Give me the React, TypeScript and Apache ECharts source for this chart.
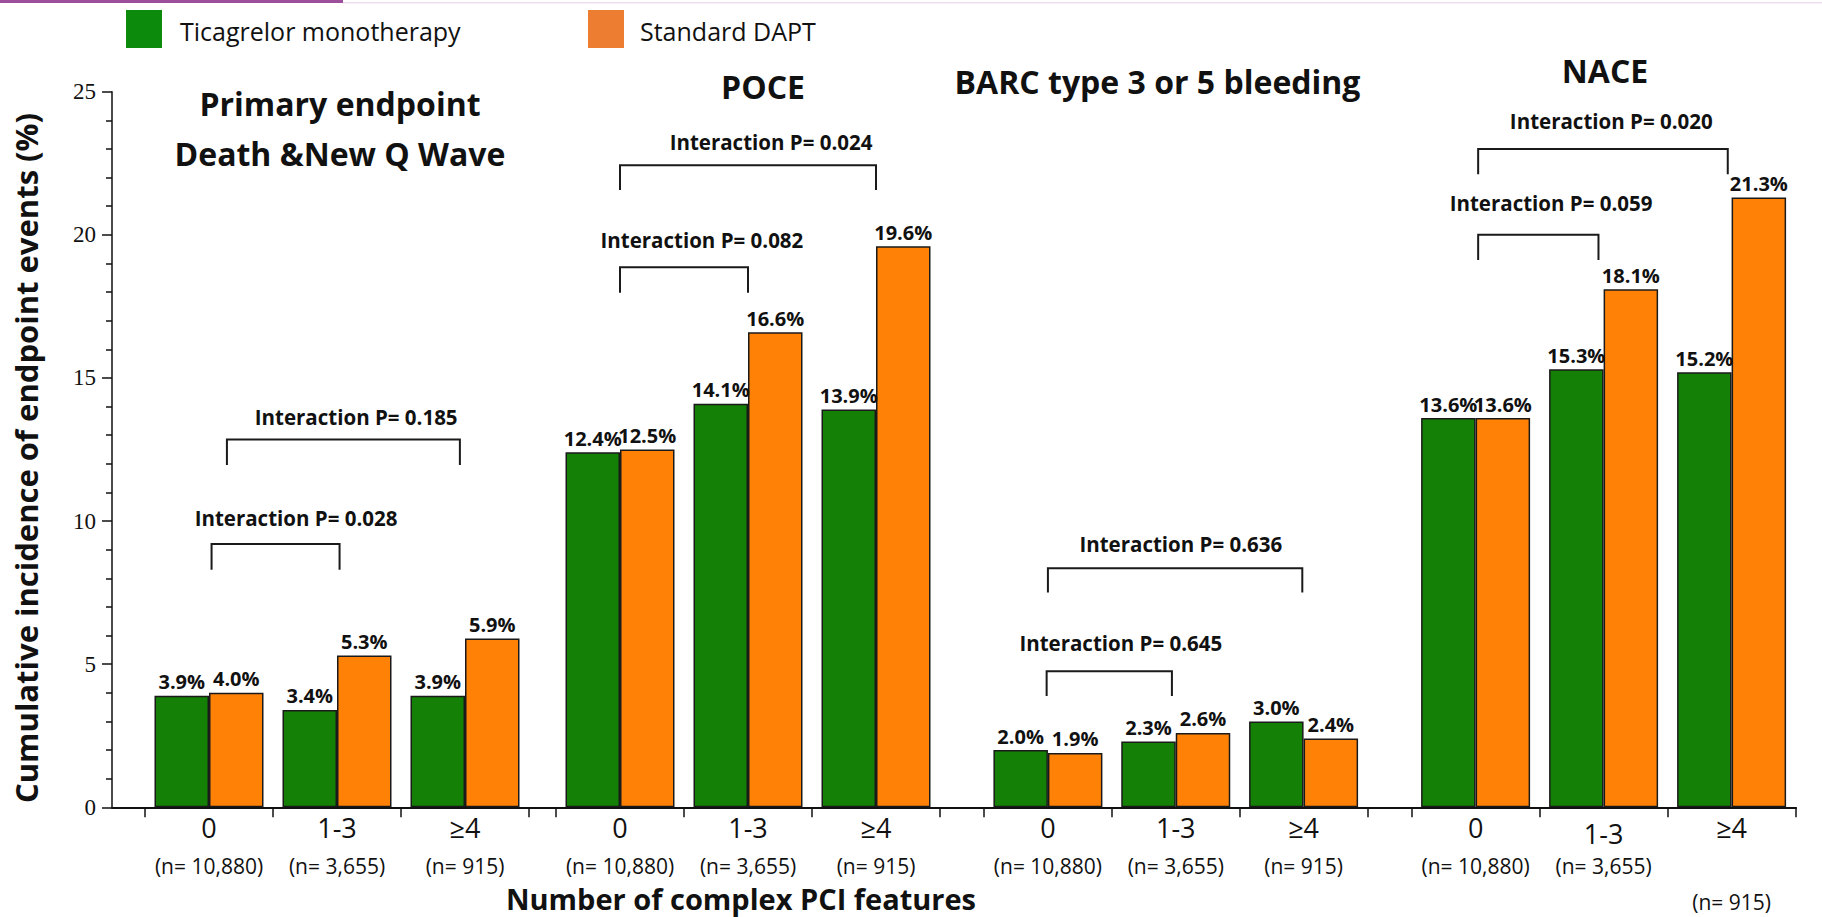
import React, { useEffect, useRef } from "react";
import * as echarts from "echarts";

// Complexity groups and their sizes
const CATEGORIES = ["0", "1-3", "≥4"];
const GROUP_SIZES = ["10,880", "3,655", "915"];

// Endpoint panels
const PANEL_TITLES = [
  ["Primary endpoint", "Death &New Q Wave"],
  ["POCE"],
  ["BARC type 3 or 5 bleeding"],
  ["NACE"],
];

// Cumulative incidence (%) by panel, per complexity group
const TICAGRELOR = [
  [3.9, 3.4, 3.9],
  [12.4, 14.1, 13.9],
  [2.0, 2.3, 3.0],
  [13.6, 15.3, 15.2],
];
const DAPT = [
  [4.0, 5.3, 5.9],
  [12.5, 16.6, 19.6],
  [1.9, 2.6, 2.4],
  [13.6, 18.1, 21.3],
];

// Interaction p-values: 0 vs 1-3 and 0 vs ≥4
const P_ZERO_VS_FEW = ["0.028", "0.082", "0.645", "0.059"];
const P_ZERO_VS_MANY = ["0.185", "0.024", "0.636", "0.020"];

const Y_MIN = 0;
const Y_MAX = 25;
const Y_STEP = 5;

const SERIES_NAMES = ["Ticagrelor monotherapy", "Standard DAPT"];

// ---- layout ----
const W = 1822;
const H = 917;
const TOP = 91.7;
const BOTTOM = 109.7;
const PANEL_LEFT = [145, 556, 984, 1411.6];
const PANEL_WIDTH = [384, 384, 383.5, 384];
const SANS = "'Open Sans', 'Noto Sans', sans-serif";
const GREEN = "#148005";
const ORANGE = "#ff8206";
const INK = "#111111";

// bracket geometry: x in category units from first group centre, y in axis units
const BRACKET_FEW = [
  { from: 0.02, to: 1.02, top: 9.2, foot: 8.3, lx: 0.68, ly: 10.1 },
  { from: 0.0, to: 1.0, top: 18.87, foot: 17.98, lx: 0.64, ly: 19.82 },
  { from: -0.01, to: 0.97, top: 4.75, foot: 3.89, lx: 0.57, ly: 5.73 },
  { from: 0.02, to: 0.96, top: 20.0, foot: 19.12, lx: 0.59, ly: 21.1 },
];
const BRACKET_MANY = [
  { from: 0.14, to: 1.96, top: 12.85, foot: 11.96, lx: 1.15, ly: 13.65 },
  { from: 0.0, to: 2.0, top: 22.43, foot: 21.57, lx: 1.18, ly: 23.26 },
  { from: 0.0, to: 1.99, top: 8.35, foot: 7.5, lx: 1.04, ly: 9.2 },
  { from: 0.02, to: 1.97, top: 23.0, foot: 22.12, lx: 1.06, ly: 23.96 },
];

const TITLE_POS = [
  { x: 340, y: [103, 153] },
  { x: 763, y: [86] },
  { x: 1157.5, y: [81] },
  { x: 1605, y: [70] },
];

// vertical centre of the group-size line under each category
const SIZE_ROW_Y = 865.5;
const SIZE_ROW_Y_LAST = [865.5, 865.5, 901.5];

function buildOption() {
  const grids: any[] = [
    { left: 112, right: W - 1796, top: TOP, bottom: BOTTOM, containLabel: false, outerBoundsMode: "none" },
  ];
  const xAxes: any[] = [
    {
      type: "value",
      gridIndex: 0,
      min: 0,
      max: 1,
      axisLine: { show: true, onZero: false, lineStyle: { color: INK, width: 2 } },
      axisTick: { show: false },
      axisLabel: { show: false },
      splitLine: { show: false },
    },
  ];
  const yAxes: any[] = [
    {
      type: "value",
      gridIndex: 0,
      min: Y_MIN,
      max: Y_MAX,
      interval: Y_STEP,
      axisLine: { show: true, lineStyle: { color: INK, width: 1.5 } },
      axisTick: { show: true, length: 10, lineStyle: { color: INK, width: 1.5 } },
      minorTick: { show: true, splitNumber: 5, length: 6, lineStyle: { color: INK, width: 1.5 } },
      axisLabel: {
        margin: 16,
        fontFamily: "'Liberation Serif', 'DejaVu Serif', serif",
        fontSize: 23,
        color: INK,
      },
      splitLine: { show: false },
    },
  ];
  const series: any[] = [];
  const barLabel = {
    show: true,
    position: "top",
    distance: 4,
    fontFamily: SANS,
    fontWeight: "bold",
    fontSize: 20,
    color: INK,
    formatter: (p: any) => `${Number(p.value).toFixed(1)}%`,
  };

  for (let p = 0; p < 4; p++) {
    const gi = p + 1;
    grids.push({
      left: PANEL_LEFT[p],
      width: PANEL_WIDTH[p],
      top: TOP,
      bottom: BOTTOM,
      containLabel: false,
      outerBoundsMode: "none",
    });
    xAxes.push({
      type: "category",
      gridIndex: gi,
      data: CATEGORIES,
      boundaryGap: true,
      axisLine: { show: false },
      axisTick: { show: true, length: 10, lineStyle: { color: INK, width: 1.5 } },
      axisLabel: {
        interval: 0,
        margin: 5,
        color: INK,
        fontFamily: SANS,
        formatter: (value: string, index: number) =>
          p === 3 && index === 1 ? `{c2|${value}}` : `{c|${value}}`,
        rich: {
          c: { fontFamily: SANS, fontSize: 27, lineHeight: 30, color: INK },
          c2: { fontFamily: SANS, fontSize: 27, lineHeight: 42, color: INK },
        },
      },
      splitLine: { show: false },
    });
    yAxes.push({ type: "value", gridIndex: gi, min: Y_MIN, max: Y_MAX, show: false });

    series.push({
      name: SERIES_NAMES[0],
      type: "bar",
      xAxisIndex: gi,
      yAxisIndex: gi,
      data: TICAGRELOR[p],
      barWidth: 54.5,
      barGap: "0%",
      itemStyle: { color: GREEN, borderColor: "#1a1a1a", borderWidth: 1.5 },
      label: barLabel,
    });
    series.push({
      name: SERIES_NAMES[1],
      type: "bar",
      xAxisIndex: gi,
      yAxisIndex: gi,
      data: DAPT[p],
      barWidth: 54.5,
      barGap: "0%",
      itemStyle: { color: ORANGE, borderColor: "#1a1a1a", borderWidth: 1.5 },
      label: barLabel,
    });
  }

  return {
    animation: false,
    backgroundColor: "#ffffff",
    grid: grids,
    xAxis: xAxes,
    yAxis: yAxes,
    series,
  };
}

function textEl(text: string, x: number, y: number, size: number, weight: string, align = "center", extra: any = {}) {
  return {
    type: "text",
    x,
    y,
    ...extra,
    style: {
      text,
      fontFamily: SANS,
      fontSize: size,
      fontWeight: weight,
      fill: INK,
      textAlign: align,
      textVerticalAlign: "middle",
    },
  };
}

function buildGraphic(chart: any) {
  const els: any[] = [];

  // header rule
  els.push({ type: "rect", shape: { x: 0, y: 0, width: 343, height: 3 }, style: { fill: "#9d4f9b" } });
  els.push({ type: "rect", shape: { x: 343, y: 2, width: W - 343, height: 1.5 }, style: { fill: "#ecdcef" } });

  // legend
  els.push({ type: "rect", shape: { x: 126, y: 10, width: 36, height: 38 }, style: { fill: "#0b8a0b" } });
  els.push(textEl(SERIES_NAMES[0], 180, 31, 25, "normal", "left"));
  els.push({ type: "rect", shape: { x: 588, y: 10, width: 36, height: 38 }, style: { fill: "#ed7d31" } });
  els.push(textEl(SERIES_NAMES[1], 640, 31, 25, "normal", "left"));

  // panel titles
  PANEL_TITLES.forEach((lines, p) => {
    lines.forEach((line, i) => {
      els.push(textEl(line, TITLE_POS[p].x, TITLE_POS[p].y[i], 32, "bold"));
    });
  });

  // axis titles
  els.push(textEl("Number of complex PCI features", 741, 898, 29, "bold"));
  els.push(textEl("Cumulative incidence of endpoint events (%)", 25.5, 458, 31, "bold", "center", { rotation: Math.PI / 2 }));

  const yPx = (v: number) => chart.convertToPixel({ yAxisIndex: 0 }, v) as number;
  for (let p = 0; p < 4; p++) {
    const c0 = chart.convertToPixel({ xAxisIndex: p + 1 }, 0) as number;
    const c1 = chart.convertToPixel({ xAxisIndex: p + 1 }, 1) as number;
    const xPx = (f: number) => c0 + f * (c1 - c0);

    // group sizes under the category labels
    GROUP_SIZES.forEach((n, i) => {
      const y = p === 3 ? SIZE_ROW_Y_LAST[i] : SIZE_ROW_Y;
      els.push(textEl(`(n= ${n})`, xPx(i), y, 21, "normal"));
    });

    // interaction brackets
    const add = (b: any, pv: string) => {
      const x1 = xPx(b.from);
      const x2 = xPx(b.to);
      const yt = yPx(b.top);
      const yf = yPx(b.foot);
      els.push({
        type: "polyline",
        shape: { points: [[x1, yf], [x1, yt], [x2, yt], [x2, yf]] },
        style: { stroke: "#1a1a1a", lineWidth: 2, fill: "none" },
      });
      els.push(textEl(`Interaction P= ${pv}`, xPx(b.lx), yPx(b.ly), 20.5, "bold"));
    };
    add(BRACKET_FEW[p], P_ZERO_VS_FEW[p]);
    add(BRACKET_MANY[p], P_ZERO_VS_MANY[p]);
  }
  return els;
}

export default function App() {
  const ref = useRef<HTMLDivElement>(null);
  useEffect(() => {
    if (!ref.current) return;
    const chart = echarts.init(ref.current, null, { renderer: "svg" });
    chart.setOption(buildOption() as any);
    chart.setOption({ graphic: buildGraphic(chart) } as any);
    return () => chart.dispose();
  }, []);
  return (
    <div
      ref={ref}
      style={{ position: "absolute", left: 0, top: 0, width: W, height: H, background: "#fff" }}
    />
  );
}
